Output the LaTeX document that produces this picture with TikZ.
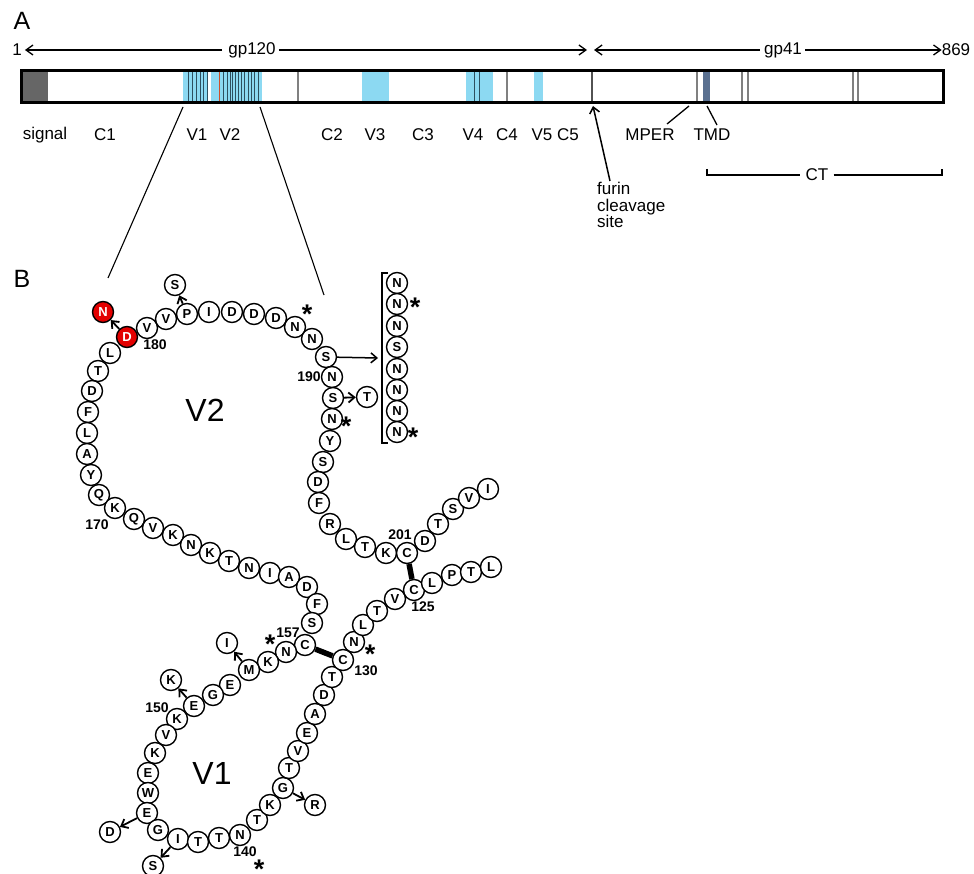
\documentclass[tikz,border=0pt]{standalone}
\usepackage{fontspec}
\setmainfont{Liberation Sans}
\usetikzlibrary{arrows.meta}
\definecolor{cy}{HTML}{8CD9F2}
\definecolor{stripe}{HTML}{2D4F5F}
\definecolor{redline}{HTML}{D0502A}
\definecolor{tmd}{HTML}{5A7090}
\definecolor{sig}{HTML}{666666}
\definecolor{redres}{HTML}{E30000}
\newcommand\resi[4]{\node[res] (#1) at (#2,#3) {#4};}
\begin{document}
\begin{tikzpicture}[x=1pt,y=-1pt,
  res/.style={circle,draw,line width=1.4pt,fill=white,minimum size=21pt,inner sep=0pt,font=\bfseries\fontsize{13}{13}\selectfont},
  rres/.style={res,fill=redres,text=white},
  num/.style={font=\bfseries\fontsize{14}{14}\selectfont,inner sep=0pt},
  lbl/.style={font=\fontsize{17}{17}\selectfont,inner sep=1pt},
  big/.style={font=\fontsize{32}{32}\selectfont,inner sep=0pt},
  panel/.style={font=\fontsize{25}{25}\selectfont,inner sep=0pt},
  ast/.style={font=\bfseries\fontsize{27}{27}\selectfont,inner sep=0pt,text height=0.72em,text depth=-0.42em,yshift=-10pt},
  arr/.style={line width=1.8pt,-{Straight Barb[length=6pt,width=10pt]}},
  tarr/.style={line width=1.3pt,-{Straight Barb[length=7pt,width=10pt]}},
  bond/.style={line width=5.5pt},
  thin/.style={line width=1.1pt},
  stripeline/.style={stripe,line width=0.9pt},
  greyline/.style={gray,line width=1.2pt}
]
\useasboundingbox (0,0) rectangle (974,874);

% ---------- panel A ----------
\node[panel] (pA) at (22,21) {A};
\node[lbl] (one) at (17,50) {1};
\node[lbl] (gp120) at (252,50) {gp120};
\node[lbl] (gp41) at (783,50) {gp41};
\node[lbl] (n869) at (956,50) {869};
\coordinate (cl) at (587,50);
\coordinate (cr) at (594,50);
\draw[tarr] ([xshift=-5pt]gp120.west) -- ([xshift=2pt]one.east);
\draw[tarr] ([xshift=2pt]gp120.east) -- (cl);
\draw[tarr] ([xshift=-3pt]gp41.west) -- (cr);
\draw[tarr] ([xshift=2pt]gp41.east) -- ([xshift=1pt]n869.west);

% bar
\fill[sig] (21.5,71) rectangle (48,103);
\fill[cy] (183,71) rectangle (208,103);
\fill[cy] (211,71) rectangle (262,103);
\fill[cy] (362,71) rectangle (389,103);
\fill[cy] (466,71) rectangle (493,103);
\fill[cy] (534,71) rectangle (543,103);
\foreach \x in {188,192,196,200,203,207,223,227,230,232,235,238,241,244,248,251,254,258,474,479}
  \draw[stripeline] (\x,71) -- (\x,103);
\draw[redline,line width=1pt] (219,71) -- (219,103);
\foreach \x in {298,507,697,742,748,853,858}
  \draw[greyline] (\x,71) -- (\x,103);
\draw[sig!80!black,line width=1.4pt] (592,71) -- (592,103);
\fill[tmd] (703,71) rectangle (710,103);
\draw[line width=3pt] (21.5,71) rectangle (943.5,103);

% region labels
\node[lbl] (lsig) at (45,135) {signal};
\node[lbl] (lc1) at (105,135) {C1};
\node[lbl] (lv1) at (197,135) {V1};
\node[lbl] (lv2) at (230,135) {V2};
\node[lbl] (lc2) at (332,135) {C2};
\node[lbl] (lv3) at (375,135) {V3};
\node[lbl] (lc3) at (423,135) {C3};
\node[lbl] (lv4) at (473,135) {V4};
\node[lbl] (lc4) at (507,135) {C4};
\node[lbl] (lv5) at (542,135) {V5};
\node[lbl] (lc5) at (568,135) {C5};
\node[lbl] (mper) at (650,135) {MPER};
\node[lbl] (tmdl) at (712,135) {TMD};
\coordinate (mperend) at (689,106);
\coordinate (tmdend) at (707,106);
\draw[line width=1.3pt] (667,124) -- (mperend);
\draw[line width=1.3pt] (717,125) -- (tmdend);

\node[lbl,align=left,anchor=north west,font=\fontsize{17}{16.5}\selectfont] (furin) at (596,181) {furin\\cleavage\\site};
\coordinate (fs) at (593,106);
\draw[arr,line width=1.5pt] ([xshift=14pt]furin.north west) -- (fs);

\node[lbl] (ct) at (817,175) {CT};
\draw[line width=2pt] (707,169) -- (707,175) -- ([xshift=-4pt]ct.west);
\draw[line width=2pt] ([xshift=4pt]ct.east) -- (942,175) -- (942,169);

% zoom lines
\coordinate (zl1) at (183,107);
\coordinate (zl2) at (108,278);
\coordinate (zr1) at (260,107);
\coordinate (zr2) at (324,295);
\draw[thin] (zl1) -- (zl2);
\draw[thin] (zr1) -- (zr2);

% ---------- panel B ----------
\node[panel] (pB) at (22,279) {B};
\node[big] (v2lab) at (205,410) {V2};
\node[big] (v1lab) at (212,773) {V1};

% V2 region
\resi{s1}{175}{285}{S}
\node[rres] (nR) at (103,312) {N};
\node[rres] (dR) at (127,337) {D};
\resi{v1}{147}{328}{V}
\resi{v2}{166}{319}{V}
\resi{p1}{187}{314}{P}
\resi{i1}{209}{312}{I}
\resi{d1}{232}{312}{D}
\resi{d2}{254}{314}{D}
\resi{d3}{276}{318}{D}
\resi{n1}{295}{327}{N}
\resi{n2}{312}{339}{N}
\resi{s2}{326}{357}{S}
\resi{n3}{332}{377}{N}
\resi{s3}{333}{398}{S}
\resi{n4}{332}{419}{N}
\resi{y1}{330}{441}{Y}
\resi{s4}{323}{462}{S}
\resi{d4}{318}{482}{D}
\resi{f1}{319}{503}{F}
\resi{r1}{330}{524}{R}
\resi{l1}{346}{539}{L}
\resi{t1}{365}{547}{T}
\resi{k1}{386}{553}{K}
\resi{c201}{407}{553}{C}
\resi{d5}{425}{541}{D}
\resi{t2}{438}{524}{T}
\resi{s5}{453}{509}{S}
\resi{v3}{469}{498}{V}
\resi{i2}{488}{489}{I}

\resi{l2}{110}{353}{L}
\resi{t3}{98}{371}{T}
\resi{d6}{92}{391}{D}
\resi{f2}{88}{412}{F}
\resi{l3}{87}{433}{L}
\resi{a1}{87}{454}{A}
\resi{y2}{91}{475}{Y}
\resi{q1}{99}{495}{Q}
\resi{k2}{115}{508}{K}
\resi{q2}{134}{519}{Q}
\resi{v4}{153}{528}{V}
\resi{k3}{173}{535}{K}
\resi{n5}{191}{545}{N}
\resi{k4}{210}{553}{K}
\resi{t4}{229}{561}{T}
\resi{n6}{249}{568}{N}
\resi{i3}{270}{573}{I}
\resi{a2}{289}{577}{A}
\resi{d7}{307}{587}{D}
\resi{f3}{317}{604}{F}
\resi{s6}{312}{623}{S}

% bracket column
\resi{b1}{397}{283}{N}
\resi{b2}{397}{304}{N}
\resi{b3}{397}{326}{N}
\resi{b4}{397}{347}{S}
\resi{b5}{397}{369}{N}
\resi{b6}{397}{390}{N}
\resi{b7}{397}{411}{N}
\resi{b8}{397}{432}{N}
\draw[line width=2.2pt] (388,273) -- (382,273) -- (382,443) -- (388,443);
\resi{t0}{367}{397}{T}
\coordinate (bk) at (378,358);

% V1 region
\resi{c157}{305}{645}{C}
\resi{n7}{286}{652}{N}
\resi{k5}{268}{662}{K}
\resi{m1}{249}{670}{M}
\resi{i4}{227}{643}{I}
\resi{e1}{230}{685}{E}
\resi{g1}{213}{695}{G}
\resi{e2}{194}{706}{E}
\resi{k6}{171}{680}{K}
\resi{k7}{177}{719}{K}
\resi{v5}{166}{735}{V}
\resi{k8}{155}{753}{K}
\resi{e3}{148}{773}{E}
\resi{w1}{148}{793}{W}
\resi{e4}{147}{813}{E}
\resi{d8}{110}{832}{D}
\resi{g2}{158}{830}{G}
\resi{i5}{178}{839}{I}
\resi{s7}{153}{866}{S}
\resi{t5}{198}{842}{T}
\resi{t6}{219}{838}{T}
\resi{n8}{240}{835}{N}
\resi{t7}{257}{820}{T}
\resi{k9}{270}{805}{K}
\resi{g3}{283}{788}{G}
\resi{r2}{315}{805}{R}
\resi{t8}{289}{768}{T}
\resi{v6}{298}{751}{V}
\resi{e5}{307}{733}{E}
\resi{a3}{315}{714}{A}
\resi{d9}{324}{695}{D}
\resi{t9}{332}{677}{T}
\resi{c130}{343}{660}{C}
\resi{n9}{354}{642}{N}
\resi{l4}{363}{625}{L}
\resi{t10}{377}{611}{T}
\resi{v7}{395}{599}{V}
\resi{c125}{414}{590}{C}
\resi{l5}{432}{583}{L}
\resi{p2}{452}{575}{P}
\resi{t11}{471}{572}{T}
\resi{l6}{491}{567}{L}

% bonds
\draw[bond] (c201) -- (c125);
\draw[bond] (c157) -- (c130);

% arrows
\draw[arr] (dR) -- (nR);
\draw[arr] (p1) -- (s1);
\draw[arr,line width=1.5pt] (s2) -- (bk);
\draw[arr] (s3) -- (t0);
\draw[arr] (m1) -- (i4);
\draw[arr] (e2) -- (k6);
\draw[arr] (e4) -- (d8);
\draw[arr] (i5) -- (s7);
\draw[arr] (g3) -- (r2);

% numbers
\node[num] (l180) at (155,345) {180};
\node[num] (l190) at (309,377) {190};
\node[num] (l170) at (97,525) {170};
\node[num] (l201) at (400,535) {201};
\node[num] (l125) at (423,607) {125};
\node[num] (l130) at (366,671) {130};
\node[num] (l157) at (288,633) {157};
\node[num] (l150) at (157,708) {150};
\node[num] (l140) at (245,852) {140};

% glycosylation asterisks
\node[ast] (a1s) at (307,310) {*};
\node[ast] (a2s) at (346,422) {*};
\node[ast] (a3s) at (415,303) {*};
\node[ast] (a4s) at (413,433) {*};
\node[ast] (a5s) at (270,640) {*};
\node[ast] (a6s) at (370,650) {*};
\node[ast] (a7s) at (259,865) {*};
\end{tikzpicture}
\end{document}
